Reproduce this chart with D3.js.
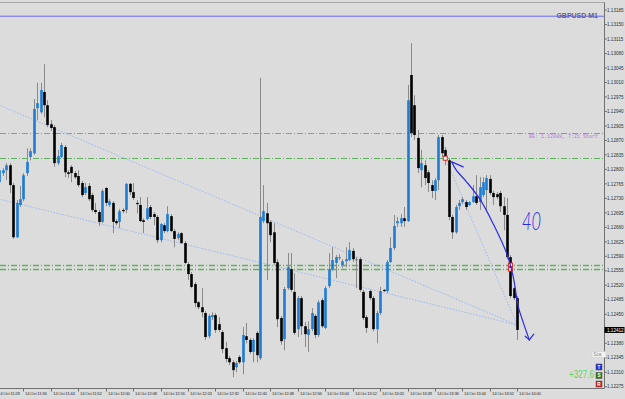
<!DOCTYPE html>
<html><head><meta charset="utf-8">
<script src="https://cdn.jsdelivr.net/npm/d3@7"></script>
<style>html,body{margin:0;padding:0;background:#dcdcdc;overflow:hidden}</style>
</head><body><svg id="c" width="625" height="399"></svg>
<script>
// ---------------- data ----------------
const symbol = "GBPUSD M1";
const firstBar = "2019-10-14T11:29:00";
const open = [1.12769,1.12791,1.12798,1.12810,1.12762,1.12636,1.12714,1.12728,1.12791,1.12830,
 1.12839,1.12948,1.12938,1.12987,1.12955,1.12909,1.12902,1.12815,1.12830,1.12854,
 1.12793,1.12806,1.12791,1.12784,1.12767,1.12743,1.12760,1.12738,1.12702,1.12697,
 1.12673,1.12755,1.12714,1.12719,1.12675,1.12673,1.12702,1.12702,1.12765,1.12745,
 1.12719,1.12714,1.12677,1.12680,1.12709,1.12692,1.12685,1.12629,1.12665,1.12651,
 1.12687,1.12651,1.12634,1.12646,1.12622,1.12571,1.12547,1.12523,1.12479,1.12467,
 1.12453,1.12397,1.12443,1.12448,1.12426,1.12407,1.12368,1.12344,1.12334,1.12322,
 1.12347,1.12334,1.12397,1.12388,1.12359,1.12405,1.12344,1.12675,1.12694,1.12673,
 1.12648,1.12576,1.12441,1.12390,1.12513,1.12559,1.12504,1.12414,1.12489,1.12421,
 1.12400,1.12414,1.12446,1.12400,1.12484,1.12417,1.12518,1.12559,1.12574,1.12588,
 1.12569,1.12578,1.12581,1.12603,1.12583,1.12583,1.12504,1.12443,1.12506,1.12489,
 1.12414,1.12453,1.12509,1.12506,1.12576,1.12610,1.12670,1.12670,1.12682,1.12675,
 1.13028,1.12955,1.12876,1.12798,1.12810,1.12793,1.12762,1.12748,1.12774,1.12878,
 1.12847,1.12822,1.12685,1.12648,1.12711,1.12721,1.12721,1.12714,1.12721,1.12735,
 1.12721,1.12738,1.12750,1.12777,1.12743,1.12740,1.12743,1.12711,1.12690,1.12588,
 1.12513,1.12489];
const high = [1.12808,1.12803,1.12815,1.12815,1.12767,1.12726,1.12760,1.12791,1.12851,1.12851,
 1.12970,1.13009,1.13009,1.13054,1.12967,1.12919,1.12907,1.12847,1.12864,1.12859,
 1.12798,1.12810,1.12796,1.12798,1.12772,1.12767,1.12767,1.12743,1.12719,1.12702,
 1.12752,1.12757,1.12728,1.12723,1.12680,1.12704,1.12706,1.12767,1.12767,1.12767,
 1.12726,1.12733,1.12682,1.12733,1.12714,1.12697,1.12690,1.12670,1.12670,1.12711,
 1.12692,1.12656,1.12648,1.12648,1.12627,1.12576,1.12552,1.12528,1.12482,1.12513,
 1.12458,1.12450,1.12455,1.12453,1.12443,1.12412,1.12383,1.12349,1.12339,1.12337,
 1.12351,1.12419,1.12429,1.12392,1.12392,1.12409,1.13021,1.12762,1.12719,1.12677,
 1.12670,1.12583,1.12446,1.12516,1.12598,1.12598,1.12549,1.12494,1.12494,1.12431,
 1.12433,1.12465,1.12450,1.12484,1.12489,1.12518,1.12598,1.12612,1.12593,1.12595,
 1.12583,1.12612,1.12624,1.12610,1.12588,1.12588,1.12509,1.12448,1.12509,1.12494,
 1.12458,1.12516,1.12511,1.12581,1.12636,1.12690,1.12685,1.12692,1.12709,1.13004,
 1.13105,1.12979,1.12895,1.12847,1.12822,1.12798,1.12774,1.12779,1.12883,1.12883,
 1.12854,1.12827,1.12690,1.12714,1.12726,1.12733,1.12726,1.12723,1.12762,1.12786,
 1.12781,1.12781,1.12786,1.12786,1.12748,1.12745,1.12748,1.12733,1.12731,1.12593,
 1.12516,1.12494];
const low = [1.12760,1.12784,1.12774,1.12743,1.12632,1.12634,1.12709,1.12723,1.12784,1.12822,
 1.12835,1.12919,1.12934,1.12926,1.12902,1.12893,1.12806,1.12810,1.12827,1.12781,
 1.12779,1.12769,1.12777,1.12757,1.12733,1.12738,1.12723,1.12697,1.12692,1.12663,
 1.12670,1.12711,1.12709,1.12646,1.12665,1.12658,1.12694,1.12694,1.12738,1.12726,
 1.12694,1.12673,1.12646,1.12677,1.12680,1.12665,1.12622,1.12624,1.12646,1.12648,
 1.12648,1.12612,1.12629,1.12620,1.12571,1.12533,1.12513,1.12467,1.12462,1.12443,
 1.12388,1.12392,1.12436,1.12405,1.12407,1.12356,1.12334,1.12327,1.12298,1.12310,
 1.12330,1.12305,1.12380,1.12354,1.12334,1.12334,1.12339,1.12670,1.12533,1.12624,
 1.12569,1.12419,1.12376,1.12363,1.12509,1.12504,1.12400,1.12395,1.12400,1.12371,
 1.12359,1.12409,1.12392,1.12395,1.12417,1.12414,1.12513,1.12554,1.12537,1.12581,
 1.12562,1.12564,1.12578,1.12576,1.12513,1.12504,1.12436,1.12405,1.12484,1.12409,
 1.12380,1.12448,1.12504,1.12501,1.12574,1.12605,1.12661,1.12661,1.12661,1.12673,
 1.12878,1.12871,1.12791,1.12757,1.12762,1.12745,1.12731,1.12726,1.12750,1.12830,
 1.12810,1.12677,1.12632,1.12644,1.12702,1.12716,1.12702,1.12711,1.12719,1.12714,
 1.12702,1.12733,1.12702,1.12738,1.12714,1.12728,1.12697,1.12653,1.12583,1.12489,
 1.12484,1.12388];
const close = [1.12798,1.12798,1.12810,1.12762,1.12636,1.12719,1.12728,1.12786,1.12818,1.12844,
 1.12946,1.12960,1.12992,1.12955,1.12907,1.12900,1.12815,1.12832,1.12859,1.12793,
 1.12789,1.12791,1.12781,1.12762,1.12738,1.12757,1.12728,1.12702,1.12697,1.12673,
 1.12748,1.12719,1.12723,1.12673,1.12670,1.12699,1.12699,1.12765,1.12745,1.12731,
 1.12716,1.12675,1.12673,1.12706,1.12685,1.12685,1.12629,1.12668,1.12651,1.12692,
 1.12651,1.12632,1.12644,1.12622,1.12574,1.12547,1.12516,1.12477,1.12467,1.12455,
 1.12395,1.12446,1.12448,1.12412,1.12412,1.12366,1.12342,1.12334,1.12315,1.12332,
 1.12334,1.12400,1.12388,1.12359,1.12388,1.12351,1.12685,1.12699,1.12670,1.12641,
 1.12574,1.12438,1.12385,1.12511,1.12564,1.12509,1.12405,1.12489,1.12421,1.12402,
 1.12414,1.12453,1.12400,1.12479,1.12421,1.12513,1.12559,1.12581,1.12588,1.12586,
 1.12578,1.12583,1.12605,1.12583,1.12581,1.12509,1.12441,1.12417,1.12489,1.12414,
 1.12453,1.12506,1.12506,1.12576,1.12610,1.12663,1.12675,1.12682,1.12675,1.12967,
 1.12888,1.12883,1.12803,1.12815,1.12779,1.12767,1.12748,1.12774,1.12878,1.12839,
 1.12822,1.12685,1.12648,1.12709,1.12719,1.12728,1.12709,1.12721,1.12735,1.12719,
 1.12757,1.12769,1.12779,1.12743,1.12733,1.12733,1.12711,1.12690,1.12588,1.12494,
 1.12489,1.12412];
const xTickLabels = ["14 Oct 11:28","14 Oct 11:36","14 Oct 11:44","14 Oct 11:52","14 Oct 12:00",
 "14 Oct 12:08","14 Oct 12:16","14 Oct 12:24","14 Oct 12:32","14 Oct 12:40","14 Oct 12:48",
 "14 Oct 12:56","14 Oct 13:04","14 Oct 13:12","14 Oct 13:20","14 Oct 13:28","14 Oct 13:36",
 "14 Oct 13:44","14 Oct 13:52","14 Oct 14:00"];
const yTickLabels = ["1.13185","1.13150","1.13115","1.13080","1.13045","1.13010","1.12975","1.12940",
 "1.12905","1.12870","1.12835","1.12800","1.12765","1.12730","1.12695","1.12660","1.12625","1.12590",
 "1.12555","1.12520","1.12485","1.12450","1.12415","1.12380","1.12345","1.12310","1.12275"];
const symbolLine = 1.13170;
const breakEven = 1.12888;
const beLabel = "BE: 1.12888, 7:21 Short";
const greenLevels = [1.12827, 1.12569, 1.12559];
const tradeLineStartBar = [0, 0, 130];
const tradeLineStartPrice = [1.12955, 1.12728, 1.12827];
const tradeLineEnd = [151, 1.12424];
const tradeMarkBar = [130, 149];
const tradeMarkPrice = [1.12827, 1.12564];
const penCurveBar = [131.9, 133.2, 136.2, 140.1, 144.0, 147.9, 149.8, 151.3, 152.7, 154.5];
const penCurvePrice = [1.12818, 1.12798, 1.12770, 1.12728, 1.12668, 1.12597, 1.12541, 1.12468, 1.12431, 1.12388];
const penTopArm = [135.2, 1.12806];
const penBottomArms = [[153.3, 1.12397], [155.8, 1.12402]];
const penText = "40";
const penTextPos = [152.4, 1.12653];
const profitText = "+327.6";

// ---------------- drawing ----------------
const svg = d3.select("#c");
const W = 625, H = 399, plotR = 604.5, plotB = 388.5, plotT = 2.5;
const t0 = new Date(firstBar);
const barTime = k => d3.timeSecond.offset(t0, Math.round(k * 60));
const x = d3.scaleTime().domain([t0, barTime(151)]).range([-0.6, 517.3]);
const y = d3.scaleLinear().domain([1.12275, 1.13185]).range([386.7, 10]);
const bx = k => x(barTime(k));

svg.append("rect").attr("width", W).attr("height", H).attr("fill", "#dcdcdc");
svg.append("defs").append("clipPath").attr("id", "pc").append("rect")
  .attr("x", 0).attr("y", plotT).attr("width", plotR).attr("height", plotB - plotT);
const g = svg.append("g").attr("clip-path", "url(#pc)");

g.append("line").attr("x1", 0).attr("x2", plotR).attr("y1", y(symbolLine)).attr("y2", y(symbolLine))
  .attr("stroke", "#6a6af2").attr("stroke-width", 1);
g.append("line").attr("x1", 0).attr("x2", plotR).attr("y1", Math.round(y(breakEven)) + 0.5).attr("y2", Math.round(y(breakEven)) + 0.5)
  .attr("stroke", "#e07878").attr("stroke-width", 1).attr("stroke-dasharray", "6,2,1,2");
greenLevels.forEach((p, i) => {
  g.append("line").attr("x1", 0).attr("x2", plotR).attr("y1", Math.round(y(p)) + 0.5).attr("y2", Math.round(y(p)) + 0.5)
    .attr("stroke", "#5fb05f").attr("stroke-width", i === 0 ? 1 : 1.4).attr("stroke-dasharray", "6,2,1,2");
});

tradeLineStartBar.forEach((b, i) => {
  const x1 = bx(b), y1 = y(tradeLineStartPrice[i]), x2 = bx(tradeLineEnd[0]), y2 = y(tradeLineEnd[1]);
  const ext = b === 0 ? 10 : 0, sl = (y2 - y1) / (x2 - x1);
  g.append("line").attr("x1", x1 - ext).attr("y1", y1 - ext * sl).attr("x2", x2).attr("y2", y2)
    .attr("stroke", "#9fb6ee").attr("stroke-width", 1).attr("stroke-dasharray", "1.5,1.5");
});

const bars = d3.range(open.length).map(k => ({k, o: open[k], h: high[k], l: low[k], c: close[k]}));
const cg = g.append("g");
cg.selectAll("line.w").data(bars).join("line").attr("class", "w")
  .attr("x1", d => Math.round(bx(d.k)) + 0.5).attr("x2", d => Math.round(bx(d.k)) + 0.5)
  .attr("y1", d => y(d.h)).attr("y2", d => y(d.l))
  .attr("stroke", "#8a8a8a").attr("stroke-width", 1);
cg.selectAll("rect.b").data(bars).join("rect").attr("class", "b")
  .attr("x", d => Math.round(bx(d.k)) - 0.8)
  .attr("width", 2.6)
  .attr("y", d => Math.min(y(d.o), y(d.c)))
  .attr("height", d => Math.max(1, Math.abs(y(d.o) - y(d.c))))
  .attr("fill", d => d.c > d.o ? "#1c7cd6" : (Math.abs(y(d.o) - y(d.c)) < 1 ? "#6e6e6e" : "#000"));

tradeMarkBar.forEach((b, i) => {
  const cx = bx(b), cy = y(tradeMarkPrice[i]);
  if (i === 0) {
    g.append("rect").attr("x", cx - 2).attr("y", cy - 2).attr("width", 4).attr("height", 4)
      .attr("fill", "#fff").attr("stroke", "#e02020").attr("stroke-width", 1);
  } else {
    g.append("rect").attr("x", cx - 2).attr("y", cy - 4).attr("width", 4).attr("height", 3.5)
      .attr("fill", "#fff").attr("stroke", "#e02020").attr("stroke-width", 1);
    g.append("rect").attr("x", cx - 2).attr("y", cy + 0.5).attr("width", 4).attr("height", 3.5)
      .attr("fill", "#fff").attr("stroke", "#e02020").attr("stroke-width", 1);
  }
});

g.append("text").attr("x", 598).attr("y", y(breakEven) + 5).attr("text-anchor", "end")
  .attr("font-family", "Liberation Mono, DejaVu Sans Mono, monospace").attr("font-size", 5)
  .attr("fill", "#b27ee0").text(beLabel);

g.append("text").attr("x", 598).attr("y", y(symbolLine) + 1.5).attr("text-anchor", "end")
  .attr("font-family", "Liberation Sans, Arial, sans-serif").attr("font-size", 7).attr("font-weight", "bold")
  .attr("fill", "#5e5e96").text(symbol);

const penPts = penCurveBar.map((b, i) => [bx(b), y(penCurvePrice[i])]);
const pen = svg.append("g").attr("fill", "none").attr("stroke", "#2b2be8").attr("stroke-width", 1.2)
  .attr("stroke-linecap", "round");
pen.append("path").attr("d", d3.line().curve(d3.curveCatmullRom)(penPts));
pen.append("path").attr("d", d3.line()([penPts[0], [bx(penTopArm[0]), y(penTopArm[1])]]));
penBottomArms.forEach(a => pen.append("path").attr("d", d3.line()([[bx(a[0]), y(a[1])], penPts[penPts.length - 1]])));
svg.append("text").attr("x", bx(penTextPos[0])).attr("y", y(penTextPos[1]))
  .attr("font-family", "Lato, sans-serif").attr("font-weight", 300).attr("font-style", "italic")
  .attr("font-size", 25).attr("textLength", 19).attr("lengthAdjust", "spacingAndGlyphs")
  .attr("fill", "#2b2be8").text(penText);

svg.append("line").attr("x1", 0).attr("x2", plotR).attr("y1", plotT).attr("y2", plotT).attr("stroke", "#a8a8a8");
svg.append("line").attr("x1", plotR).attr("x2", plotR).attr("y1", plotT).attr("y2", plotB).attr("stroke", "#707070");
svg.append("line").attr("x1", 0).attr("x2", plotR).attr("y1", plotB).attr("y2", plotB).attr("stroke", "#707070");

const lastPrice = close[close.length - 1];
const yt = svg.append("g").attr("font-family", "Liberation Sans, Arial, sans-serif").attr("font-size", 4.6).attr("fill", "#333");
yTickLabels.forEach(s => {
  const v = +s, py = y(v);
  if (Math.abs(py - y(lastPrice)) < 4) return;
  yt.append("line").attr("x1", plotR).attr("x2", plotR + 2.5).attr("y1", py).attr("y2", py).attr("stroke", "#707070");
  yt.append("text").attr("x", 607).attr("y", py + 1.7).text(s);
});
svg.append("rect").attr("x", plotR).attr("y", y(lastPrice) - 3).attr("width", 20).attr("height", 6).attr("fill", "#000");
svg.append("text").attr("x", 607).attr("y", y(lastPrice) + 1.7).attr("font-family", "Liberation Sans, Arial, sans-serif")
  .attr("font-size", 4.6).attr("fill", "#fff").text(lastPrice.toFixed(5));

const xt = svg.append("g").attr("font-family", "Liberation Sans, Arial, sans-serif").attr("font-size", 4.4).attr("fill", "#333");
xTickLabels.forEach(s => {
  const hm = s.slice(7).split(":");
  const t = new Date(t0); t.setHours(+hm[0], +hm[1], 0, 0);
  const px = Math.round(x(t)) + 0.5;
  xt.append("line").attr("x1", px).attr("x2", px).attr("y1", plotB).attr("y2", plotB + 3).attr("stroke", "#707070");
  xt.append("text").attr("x", px + 1.5).attr("y", 395).attr("textLength", 22).text(s);
});

svg.append("text").attr("x", 569).attr("y", 378).attr("font-family", "Liberation Sans, Arial, sans-serif")
  .attr("font-size", 10.5).attr("textLength", 25).attr("lengthAdjust", "spacingAndGlyphs")
  .attr("fill", "#5fd45f").text(profitText);
svg.append("rect").attr("x", 592).attr("y", 351.5).attr("width", 14).attr("height", 6).attr("fill", "#f2f2f2").attr("stroke", "#c8c8c8").attr("stroke-width", 0.5);
svg.append("text").attr("x", 593.5).attr("y", 356.3).attr("font-family", "Liberation Sans, Arial, sans-serif").attr("font-size", 4.5).attr("fill", "#888").text("Sca");
[["T", "#2a2ae0", 364], ["S", "#1e8a1e", 372.5], ["R", "#d42020", 381]].forEach(b => {
  svg.append("rect").attr("x", 596).attr("y", b[2]).attr("width", 6).attr("height", 6).attr("fill", b[1]).attr("stroke", "#444").attr("stroke-width", 0.5);
  svg.append("text").attr("x", 599).attr("y", b[2] + 4.6).attr("text-anchor", "middle").attr("font-family", "Liberation Sans, Arial, sans-serif")
    .attr("font-size", 4.6).attr("font-weight", "bold").attr("fill", "#fff").text(b[0]);
});
</script></body></html>
